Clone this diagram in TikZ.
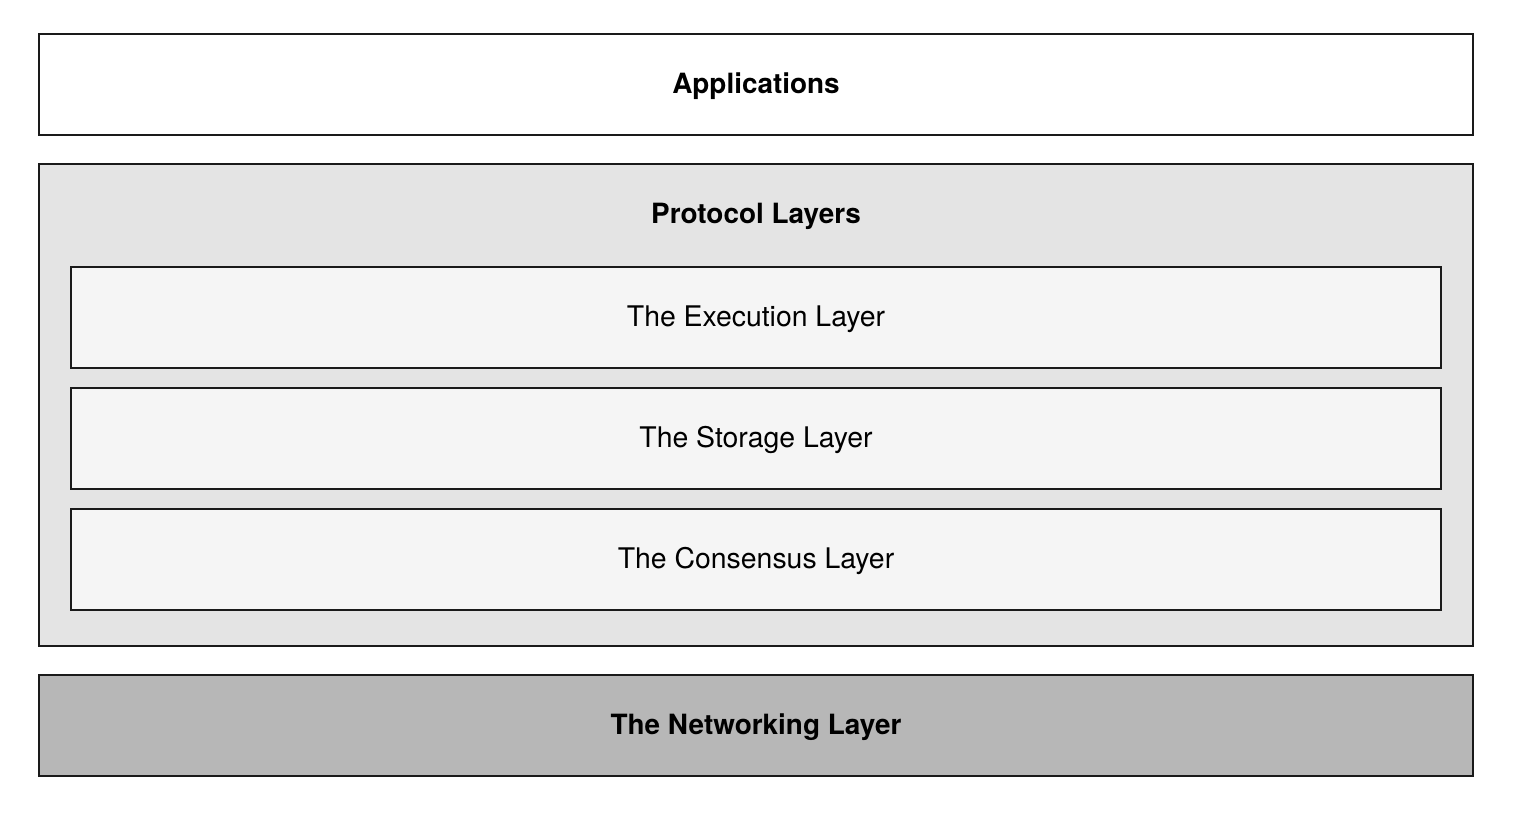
\documentclass[tikz,border=0pt]{standalone}
\usepackage{fontspec}
\setmainfont{TeX Gyre Heros}
\definecolor{protofill}{HTML}{E4E4E4}
\definecolor{innerfill}{HTML}{F5F5F5}
\definecolor{netfill}{HTML}{B7B7B7}
\definecolor{edge}{HTML}{1A1A1A}
\begin{document}
\begin{tikzpicture}[x=1pt,y=-1pt,
  layerbox/.style={draw=edge,line width=2pt},
  lbl/.style={font=\fontsize{28.4}{32}\selectfont,inner sep=0pt},
  blbl/.style={font=\fontsize{27.9}{32}\selectfont\bfseries,inner sep=0pt}]
\useasboundingbox (0,0) rectangle (1514,818);
\draw[layerbox,fill=white] (39,34) rectangle (1473,135);
\node[blbl] (app) at (756,86) {Applications};
\draw[layerbox,fill=protofill] (39,164) rectangle (1473,646);
\node[blbl] (proto) at (756,216) {Protocol Layers};
\draw[layerbox,fill=innerfill] (71,267) rectangle (1441,368);
\node[lbl] (exec) at (756,319) {The Execution Layer};
\draw[layerbox,fill=innerfill] (71,388) rectangle (1441,489);
\node[lbl] (stor) at (756,440) {The Storage Layer};
\draw[layerbox,fill=innerfill] (71,509) rectangle (1441,610);
\node[lbl] (cons) at (756,561) {The Consensus Layer};
\draw[layerbox,fill=netfill] (39,675) rectangle (1473,776);
\node[blbl] (net) at (756,727) {The Networking Layer};
\end{tikzpicture}
\end{document}
